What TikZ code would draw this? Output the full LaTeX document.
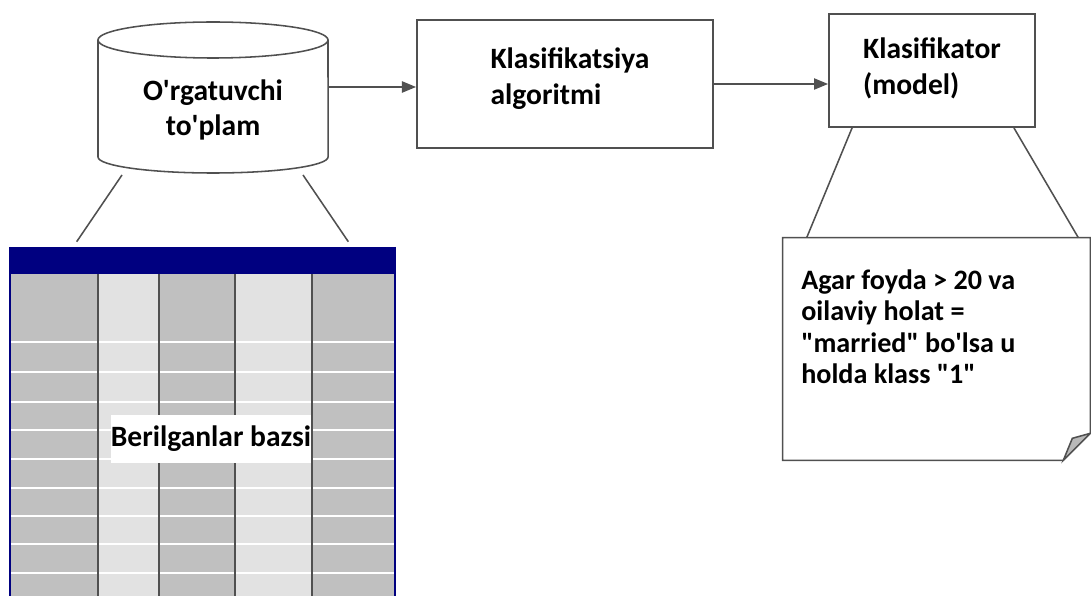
\documentclass[tikz,border=0pt]{standalone}
\usepackage{fontspec}
\setmainfont{Carlito}
\usetikzlibrary{arrows.meta, positioning, calc}
\definecolor{navy}{RGB}{0,0,128}
\definecolor{cellgray}{RGB}{192,192,192}
\definecolor{celllight}{RGB}{226,226,226}
\definecolor{edgegray}{RGB}{80,80,80}
\newcommand{\apos}{\textquotesingle}
\newcommand{\dq}{\textquotedbl}

\begin{document}
\begin{tikzpicture}[x=0.025cm, y=-0.025cm, >={Triangle[length=10pt, width=8pt]},
    box/.style={draw=edgegray, line width=1.3pt, rectangle, inner sep=0pt},
    lbl/.style={font=\fontsize{21}{25.5}\selectfont\bfseries, align=left, inner sep=0pt},
    wire/.style={draw=edgegray, line width=1.1pt}]
            \useasboundingbox (0,0) rectangle (1091,596);

            % Table
            \node[fill=navy, minimum width=9.625cm, minimum height=0.675cm, inner sep=0pt] (head) at (202.5,260.5) {};
            \foreach \xa/\xb/\c in {10/98/cellgray, 98/159/celllight, 159/235/cellgray, 235/312/celllight, 312/395/cellgray}
                \fill[\c] (\xa,274) rectangle (\xb,596);
            \foreach \y in {342,372,402,430,459,488,516,544,573}
                \draw[white, line width=1pt] (10,\y) -- (395,\y);
            \foreach \x in {98,159,235,312}
                \draw[edgegray, line width=1pt] (\x,274) -- (\x,596);
            \draw[navy, line width=0.8pt] (10,247) -- (10,596) (395,247) -- (395,596);
            \node[lbl, fill=white, minimum width=4.95cm, minimum height=1.2cm, align=center] (base) at (211,439) {Berilganlar bazsi};

            % Cylinder
            \draw[wire, fill=white] (98,40) -- (98,157) arc[start angle=180, end angle=360, x radius=2.875cm, y radius=0.4cm] -- (328,40);
            \draw[wire] (213,40) ellipse [x radius=2.875cm, y radius=0.45cm];
            \node[lbl, align=center] (train) at (213,110) {O\apos rgatuvchi\\to\apos plam};
            \coordinate (train-e) at (328,87);
            \coordinate (train-sw) at (122,175);
            \coordinate (train-se) at (303,175);

            % Boxes
            \node[box, minimum width=7.4cm, minimum height=3.2cm] (algo) at (565,84) {};
            \node[lbl] (algo-txt) at (570,79) {Klasifikatsiya\\algoritmi};
            \node[box, minimum width=5.15cm, minimum height=2.825cm] (model) at (932,70.5) {};
            \node[lbl] (model-txt) at (932,68) {Klasifikator\\(model)};

            % Note
            \node[minimum width=7.675cm, minimum height=5.55cm, inner sep=0pt] (note) at (936.5,349) {};
            \draw[wire, fill=white] (note.north west) -- (note.north east) -- ($(note.south east)+(0,-27)$)
                -- ($(note.south east)+(-27,0)$) -- (note.south west) -- cycle;
            \draw[wire, fill=gray!55] ($(note.south east)+(-27,0)$) -- ($(note.south east)+(-18,-22)$) -- ($(note.south east)+(0,-27)$) -- cycle;
            \node[lbl, font=\fontsize{20}{22.5}\selectfont\bfseries, anchor=north west] (rule) at (801,269)
                {Agar foyda > 20 va\\oilaviy holat =\\\dq married\dq{} bo\apos lsa u\\holda klass \dq 1\dq};

            \draw[wire, ->] (train-e) -- (train-e -| algo.west);
            \draw[wire, ->] (algo.east) -- (algo.east -| model.west);

            \draw[wire] (train-sw) -- ($(head.north west)+(67,-5)$);
            \draw[wire] (train-se) -- ($(head.north east)+(-47,-5)$);
            \draw[wire] ($(model.south west)+(24,0)$) -- ($(note.north west)+(24,0)$);
            \draw[wire] ($(model.south east)+(-22,0)$) -- ($(note.north east)+(-12,0)$);
        \end{tikzpicture}
\end{document}
